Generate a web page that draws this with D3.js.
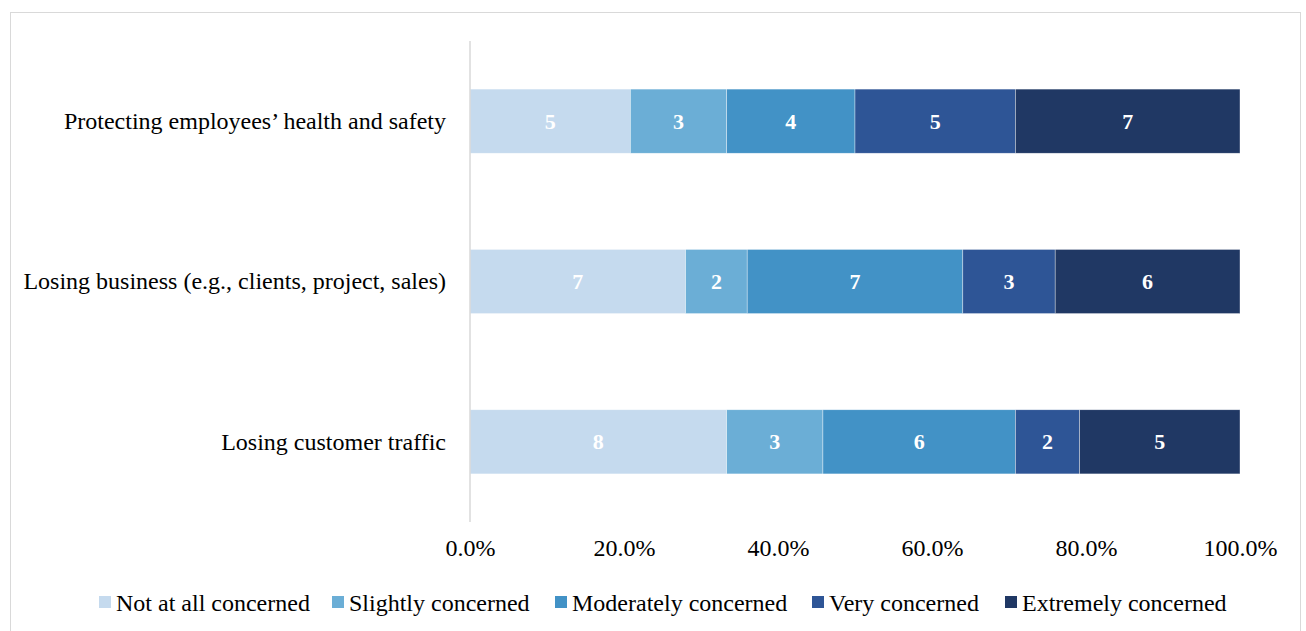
<!DOCTYPE html>
<html><head><meta charset="utf-8">
<script src="https://cdn.jsdelivr.net/npm/d3@7"></script>
<style>body{margin:0;background:#fff}svg{display:block}</style>
</head><body>
<svg id="c" width="1306" height="631"></svg>
<script>
const categories = ["Protecting employees’ health and safety","Losing business (e.g., clients, project, sales)","Losing customer traffic"];
const seriesNames = ["Not at all concerned","Slightly concerned","Moderately concerned","Very concerned","Extremely concerned"];
const notAtAll = [5,7,8];
const slightly = [3,2,3];
const moderately = [4,7,6];
const very = [5,3,2];
const extremely = [7,6,5];
const tickValues = [0,0.2,0.4,0.6,0.8,1.0];
const colors = ["#c5daee","#6baed6","#4292c6","#2e5596","#203864"];

const seriesVals = [notAtAll,slightly,moderately,very,extremely];
const rows = categories.map((c,i)=>{const o={cat:c}; seriesNames.forEach((s,j)=>o[s]=seriesVals[j][i]); return o;});
const stack = d3.stack().keys(seriesNames).offset(d3.stackOffsetExpand);
const stacked = stack(rows);

const svg = d3.select("#c");
const font = "'Liberation Serif','Times New Roman',serif";
svg.append("rect").attr("x",10.5).attr("y",12.5).attr("width",1290).attr("height",640).attr("fill","#fff").attr("stroke","#d9d9d9");

const x = d3.scaleLinear().domain([0,1]).range([470,1240]);
const y = d3.scaleBand().domain(categories).range([41,522]).paddingInner(0.6).paddingOuter(0.3);

stacked.forEach((s,j)=>{
  const g = svg.append("g");
  g.selectAll("rect").data(s).join("rect")
    .attr("x",d=>x(d[0])).attr("y",d=>y(d.data.cat))
    .attr("width",d=>x(d[1])-x(d[0])).attr("height",y.bandwidth())
    .attr("fill",colors[j]).attr("stroke","#fff").attr("stroke-width",0.6).attr("stroke-opacity",0.6);
  g.selectAll("text").data(s).join("text")
    .attr("x",d=>(x(d[0])+x(d[1]))/2).attr("y",d=>y(d.data.cat)+y.bandwidth()/2)
    .attr("text-anchor","middle").attr("dominant-baseline","central")
    .attr("font-family",font).attr("font-size",22).attr("font-weight","bold").attr("fill","#fff")
    .text(d=>d.data[s.key]);
});

// vertical axis line
svg.append("line").attr("x1",470).attr("x2",470).attr("y1",41).attr("y2",522).attr("stroke","#d9d9d9").attr("stroke-width",1.5);

// category labels
const yAxis = d3.axisLeft(y).tickSize(0).tickPadding(24);
const ya = svg.append("g").attr("transform","translate(470,0)").call(yAxis);
ya.select(".domain").remove();
ya.selectAll("text").attr("font-family",font).attr("font-size",24).attr("fill","#000");

// x tick labels
const xAxis = d3.axisBottom(x).tickValues(tickValues).tickSize(0).tickPadding(0).tickFormat(d3.format(".1%"));
const xa = svg.append("g").attr("transform","translate(0,539)").call(xAxis);
xa.select(".domain").remove();
xa.selectAll("text").attr("font-family",font).attr("font-size",24).attr("fill","#000");

// legend
const legendX = [99,332,555,812,1005];
const lg = svg.append("g");
seriesNames.forEach((s,j)=>{
  lg.append("rect").attr("x",legendX[j]).attr("y",596).attr("width",12).attr("height",12).attr("fill",colors[j]);
  lg.append("text").attr("x",legendX[j]+17).attr("y",603).attr("dominant-baseline","central")
    .attr("font-family",font).attr("font-size",24).attr("fill","#000").text(s);
});
</script>
</body></html>
